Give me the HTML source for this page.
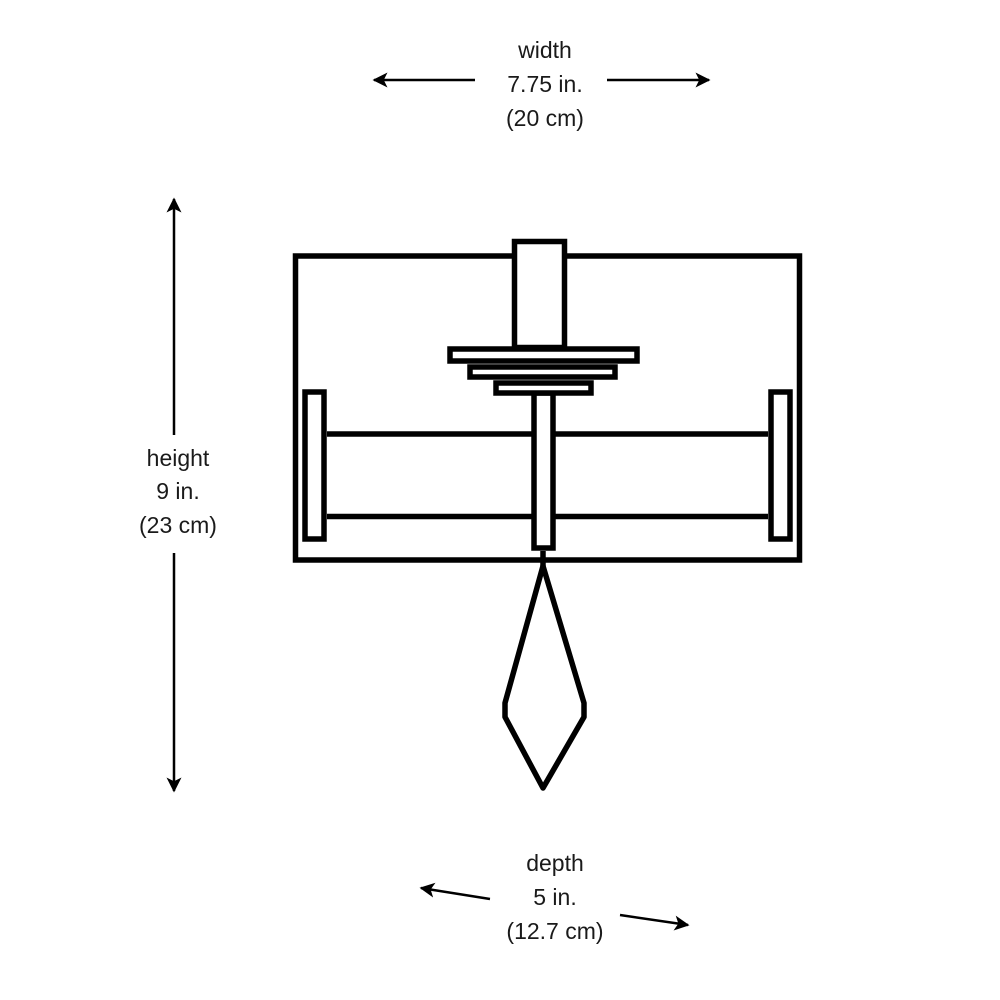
<!DOCTYPE html>
<html><head><meta charset="utf-8"><style>
html,body{margin:0;padding:0;background:#fff;}
svg{display:block;}
text{font-family:"Liberation Sans",sans-serif;font-size:23px;fill:#1a1a1a;text-anchor:middle;}
</style></head><body>
<svg width="1000" height="1000" viewBox="0 0 1000 1000" xmlns="http://www.w3.org/2000/svg">
<defs>
<marker id="ah" viewBox="0 0 10 10" refX="9" refY="5" markerWidth="6" markerHeight="6" orient="auto" markerUnits="strokeWidth">
<path d="M0,0 L10,5 L0,10 L2.5,5 z" fill="#000"/>
</marker>
</defs>
<g stroke="#000" stroke-width="2.5" fill="none">
<line x1="475" y1="80" x2="374" y2="80" marker-end="url(#ah)"/>
<line x1="607" y1="80" x2="709" y2="80" marker-end="url(#ah)"/>
<line x1="174" y1="435" x2="174" y2="199" marker-end="url(#ah)"/>
<line x1="174" y1="553" x2="174" y2="791" marker-end="url(#ah)"/>
<line x1="490" y1="899" x2="421" y2="888" marker-end="url(#ah)"/>
<line x1="620" y1="915" x2="688" y2="925" marker-end="url(#ah)"/>
</g>
<text x="545" y="58">width</text>
<text x="545" y="92">7.75 in.</text>
<text x="545" y="126">(20 cm)</text>
<text x="178" y="466">height</text>
<text x="178" y="499">9 in.</text>
<text x="178" y="533">(23 cm)</text>
<text x="555" y="871">depth</text>
<text x="555" y="905">5 in.</text>
<text x="555" y="939">(12.7 cm)</text>
<g stroke="#000" stroke-width="5.5" fill="#fff">
<rect x="295.5" y="256" width="504" height="304"/>
<rect x="514.5" y="241.5" width="50" height="106"/>
<line x1="327" y1="434" x2="768" y2="434"/>
<line x1="327" y1="516.5" x2="768" y2="516.5"/>
<rect x="305" y="392" width="19" height="147"/>
<rect x="771" y="392" width="19" height="147"/>
<rect x="534" y="393" width="19" height="155"/>
<rect x="450" y="349" width="187" height="12"/>
<rect x="470" y="367" width="145" height="10"/>
<rect x="496" y="383" width="95" height="10"/>
<line x1="543" y1="551" x2="543" y2="566"/>
<path d="M543,566 L584,703 L584,717 L543,788 L505,717 L505,703 Z" stroke-linejoin="round"/>
</g>
</svg>
</body></html>
